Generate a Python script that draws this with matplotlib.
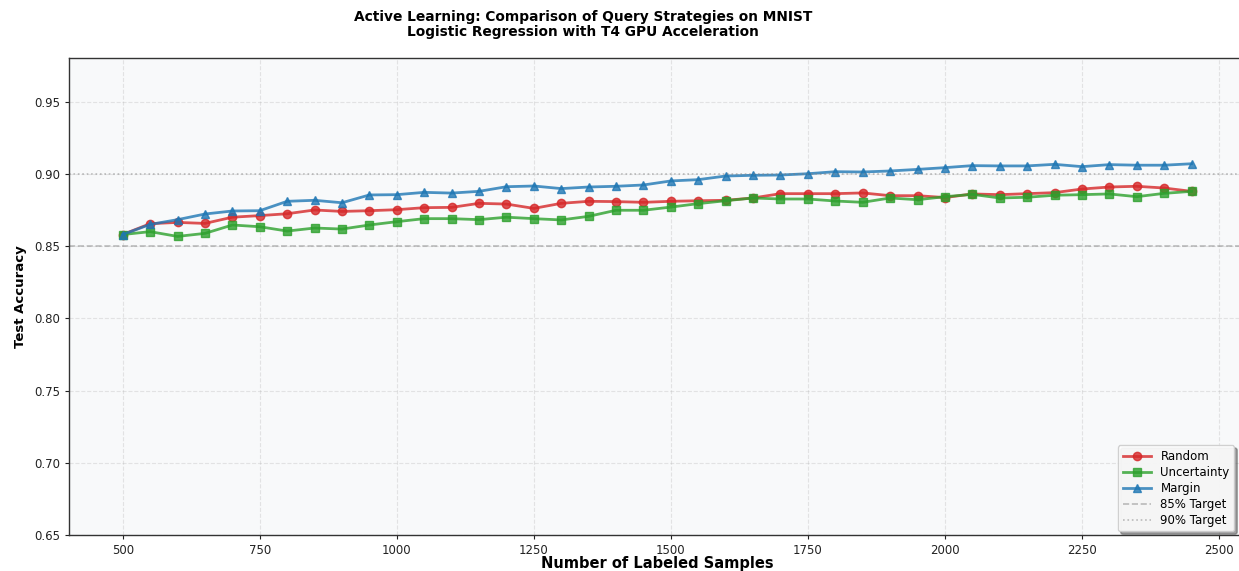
import matplotlib
matplotlib.use("Agg")
import matplotlib.pyplot as plt
import numpy as np

samples = list(range(500, 2451, 50))
random_acc = [0.858, 0.8655, 0.8664, 0.8657, 0.8700, 0.8711, 0.8724, 0.8750, 0.8740, 0.8745,
              0.8752, 0.8766, 0.8768, 0.8796, 0.8791, 0.8761, 0.8796, 0.8810, 0.8808, 0.8803,
              0.8810, 0.8814, 0.8817, 0.8833, 0.8863, 0.8863, 0.8863, 0.8868, 0.8849, 0.8849,
              0.8836, 0.8861, 0.8856, 0.8863, 0.8870, 0.8895, 0.8909, 0.8914, 0.8902, 0.8879]
uncertainty_acc = [0.858, 0.8600, 0.8567, 0.8588, 0.8646, 0.8634, 0.8604, 0.8625, 0.8618, 0.8646,
                   0.8669, 0.8690, 0.8690, 0.8683, 0.8700, 0.8690, 0.8681, 0.8706, 0.8748, 0.8748,
                   0.8770, 0.8794, 0.8814, 0.8833, 0.8826, 0.8826, 0.8812, 0.8803, 0.8833, 0.8821,
                   0.8842, 0.8858, 0.8833, 0.8838, 0.8852, 0.8856, 0.8861, 0.8842, 0.8865, 0.8879]
margin_acc = [0.858, 0.8650, 0.8683, 0.8722, 0.8743, 0.8745, 0.8810, 0.8817, 0.8800, 0.8854,
              0.8856, 0.8872, 0.8867, 0.8879, 0.8911, 0.8916, 0.8898, 0.8909, 0.8914, 0.8923,
              0.8951, 0.8960, 0.8985, 0.8990, 0.8992, 0.9001, 0.9015, 0.9013, 0.9020, 0.9031,
              0.9043, 0.9057, 0.9055, 0.9055, 0.9066, 0.9050, 0.9064, 0.9060, 0.9060, 0.9070]

target_85 = 0.85
target_90 = 0.90
x_ticks = [500, 750, 1000, 1250, 1500, 1750, 2000, 2250, 2500]
y_ticks = [0.65, 0.70, 0.75, 0.80, 0.85, 0.90, 0.95]

W, H = 1239, 571
fig = plt.figure(figsize=(W / 100, H / 100), dpi=100)
left, right, top, bottom = 69.3, 1245, 58.3, 535
ax = fig.add_axes([left / W, (H - bottom) / H, (right - left) / W, (bottom - top) / H])
ax.set_facecolor('#f8f9fa')

ax.plot(samples, random_acc, color='#d62728', marker='o', lw=2, ms=6, alpha=0.8, label='Random')
ax.plot(samples, uncertainty_acc, color='#2ca02c', marker='s', lw=2, ms=6, alpha=0.8, label='Uncertainty')
ax.plot(samples, margin_acc, color='#1f77b4', marker='^', lw=2, ms=6, alpha=0.8, label='Margin')
ax.axhline(target_85, color='gray', ls='--', alpha=0.5, lw=1.2, label='85% Target')
ax.axhline(target_90, color='gray', ls=':', alpha=0.5, lw=1.2, label='90% Target')

ax.set_ylim(0.65, 0.98)
ax.set_xticks(x_ticks)
ax.set_yticks(y_ticks)
ax.set_yticklabels([f"{v:.2f}" for v in y_ticks])
ax.tick_params(labelsize=8.5, colors='#222222', length=3)
ax.grid(True, ls='--', alpha=0.3)
for s in ax.spines.values():
    s.set_color('#333333')
    s.set_linewidth(1)

ax.set_xlabel('Number of Labeled Samples', fontsize=10.5, fontweight='bold', va='center')
ax.xaxis.set_label_coords((657 - left) / (right - left), -(563.5 - bottom) / (bottom - top))
ax.set_ylabel('Test Accuracy', fontsize=9.5, fontweight='bold', labelpad=5)

leg = ax.legend(loc='lower right', fontsize=8.5, shadow=True, frameon=True, framealpha=0.9,
                handlelength=2.4, labelspacing=0.25,
                bbox_to_anchor=(0.994, 0.0), borderaxespad=0.3)

fig.text(583 / W, 1 - 17 / H, 'Active Learning: Comparison of Query Strategies on MNIST',
         ha='center', va='center', fontsize=9.9, fontweight='bold')
fig.text(583 / W, 1 - 32 / H, 'Logistic Regression with T4 GPU Acceleration',
         ha='center', va='center', fontsize=9.9, fontweight='bold')

fig.savefig('out.png', dpi=100)
